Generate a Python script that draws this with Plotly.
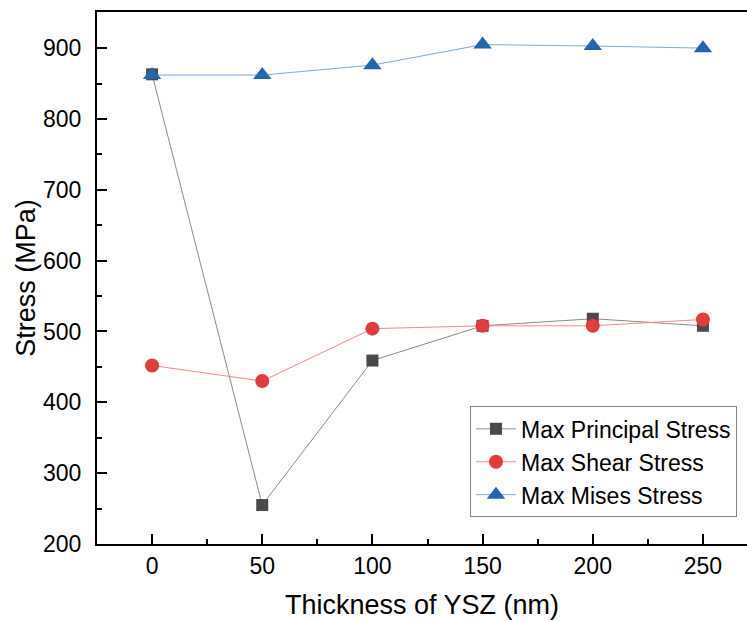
import plotly.graph_objects as go

thickness = [0, 50, 100, 150, 200, 250]
principal = [863, 255, 459, 508, 518, 508]
shear = [452, 430, 504, 508, 508, 517]
mises = [862, 862, 876, 905, 903, 900]

x_ticks = [0, 50, 100, 150, 200, 250]
y_ticks = [200, 300, 400, 500, 600, 700, 800, 900]

fig = go.Figure()
fig.add_trace(go.Scatter(
    x=thickness, y=principal, name="Max Principal Stress", mode="lines+markers",
    line=dict(color="#8a8a8a", width=1),
    marker=dict(symbol="square", size=12, color="#4a4a4a", line=dict(width=0))))
fig.add_trace(go.Scatter(
    x=thickness, y=shear, name="Max Shear Stress", mode="lines+markers",
    line=dict(color="#f08a8a", width=1),
    marker=dict(symbol="circle", size=14, color="#e23c3c", line=dict(width=0))))
fig.add_trace(go.Scatter(
    x=thickness, y=mises, name="Max Mises Stress", mode="lines+markers",
    line=dict(color="#7fa6dc", width=1),
    marker=dict(symbol="triangle-up", size=16, color="#2464b4", line=dict(width=0))))

fig.update_layout(
    width=747, height=621,
    margin=dict(l=97, r=0, t=12, b=77),
    paper_bgcolor="white", plot_bgcolor="white",
    font=dict(family="Liberation Sans, Arial, sans-serif", color="black", size=23),
    showlegend=True,
    legend=dict(x=0.9846, y=0.05, xanchor="right", yanchor="bottom",
                bordercolor="#808080", borderwidth=1, bgcolor="white",
                font=dict(size=23), tracegroupgap=0, itemwidth=40),
    xaxis=dict(
        range=[-25, 270], tickvals=x_ticks, ticks="inside", ticklen=10, tickwidth=2,
        tickcolor="black", showline=True, linecolor="black", linewidth=2, mirror=True,
        showgrid=False, zeroline=False,
        minor=dict(ticks="inside", ticklen=5, tickwidth=2, tickcolor="black", dtick=25, tick0=0, showgrid=False),
        title=dict(text="Thickness of YSZ (nm)", font=dict(size=27), standoff=18),
        tickfont=dict(size=23)),
    yaxis=dict(
        range=[200, 951], tickvals=y_ticks, ticks="inside", ticklen=10, tickwidth=2,
        tickcolor="black", showline=True, linecolor="black", linewidth=2, mirror=False,
        showgrid=False, zeroline=False, ticklabelstandoff=9,
        minor=dict(ticks="inside", ticklen=5, tickwidth=2, tickcolor="black", dtick=50, tick0=0, showgrid=False),
        title=dict(text="Stress (MPa)", font=dict(size=27), standoff=0),
        tickfont=dict(size=23)),
)

fig.write_html("out.html")
